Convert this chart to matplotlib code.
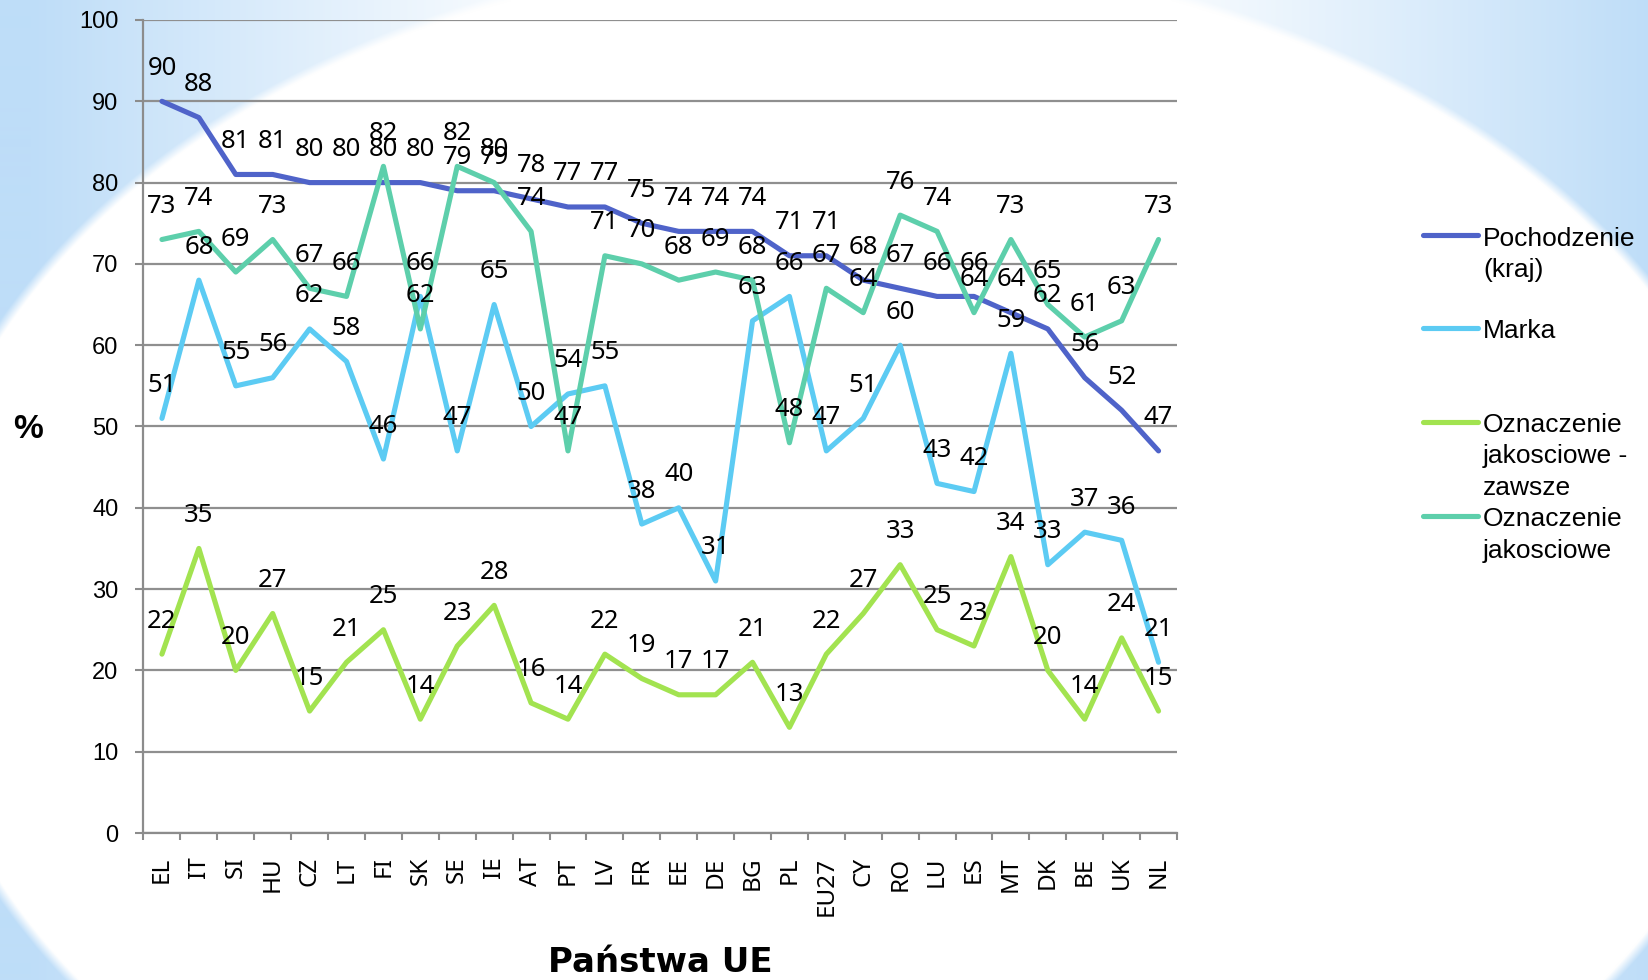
import numpy as np
import matplotlib
matplotlib.use("Agg")
import matplotlib.pyplot as plt
from matplotlib.lines import Line2D
from matplotlib.ticker import FixedLocator

# ---------------- data ----------------
countries = ["EL", "IT", "SI", "HU", "CZ", "LT", "FI", "SK", "SE", "IE", "AT", "PT", "LV", "FR",
             "EE", "DE", "BG", "PL", "EU27", "CY", "RO", "LU", "ES", "MT", "DK", "BE", "UK", "NL"]
pochodzenie = [90, 88, 81, 81, 80, 80, 80, 80, 79, 79, 78, 77, 77, 75,
               74, 74, 74, 71, 71, 68, 67, 66, 66, 64, 62, 56, 52, 47]
marka = [51, 68, 55, 56, 62, 58, 46, 66, 47, 65, 50, 54, 55, 38,
         40, 31, 63, 66, 47, 51, 60, 43, 42, 59, 33, 37, 36, 21]
ozn_zawsze = [22, 35, 20, 27, 15, 21, 25, 14, 23, 28, 16, 14, 22, 19,
              17, 17, 21, 13, 22, 27, 33, 25, 23, 34, 20, 14, 24, 15]
ozn_jakosciowe = [73, 74, 69, 73, 67, 66, 82, 62, 82, 80, 74, 47, 71, 70,
                  68, 69, 68, 48, 67, 64, 76, 74, 64, 73, 65, 61, 63, 73]

series_names = ["Pochodzenie\n(kraj)", "Marka", "Oznaczenie\njakosciowe -\nzawsze", "Oznaczenie\njakosciowe"]
series_values = [pochodzenie, marka, ozn_zawsze, ozn_jakosciowe]
series_colors = ["#4f63c9", "#5ccbf3", "#a2e350", "#5dcfab"]

W, H = 1649, 980
fig = plt.figure(figsize=(W / 100, H / 100), dpi=100)

# ---------------- background (slide decoration) ----------------
yy, xx = np.mgrid[0:H, 0:W].astype(float)
cx, cy, a, b = 841.0, 610.0, 925.0, 652.0
r = np.sqrt(((xx - cx) / a) ** 2 + ((yy - cy) / b) ** 2)
outside = np.clip((r - 1.0) * 80.0, 0, 1)
strength = np.clip((np.abs(xx - cx) - 250.0) / 560.0, 0, 1) ** 1.1
t = outside * strength
blue = np.array([190, 221, 248]) / 255.0
img = np.ones((H, W, 3)) * (1 - t[..., None]) + blue[None, None, :] * t[..., None]
bg = fig.add_axes([0, 0, 1, 1], zorder=0)
bg.imshow(img, extent=[0, 1, 0, 1], aspect="auto", origin="upper", interpolation="bilinear")
bg.axis("off")

# ---------------- main axes ----------------
left, right = 143.5 / W, 1177.0 / W
bottom, top = 1 - 833.0 / H, 1 - 20.0 / H
ax = fig.add_axes([left, bottom, right - left, top - bottom], zorder=1)
ax.set_facecolor("none")

x = np.arange(len(countries))
for vals, col in zip(series_values, series_colors):
    ax.plot(x, vals, color=col, lw=3.7, solid_joinstyle="round", solid_capstyle="round",
            zorder=3, clip_on=False)
for vals in series_values:
    for i, v in enumerate(vals):
        ax.annotate(str(v), (i, v), xytext=(0, 33), textcoords="offset pixels",
                    ha="center", va="center", fontsize=18.5, family="Noto Sans",
                    color="black", zorder=5, annotation_clip=False)

ax.set_xlim(-0.5, len(countries) - 0.5)
ax.set_ylim(0, 100)
ax.set_yticks(np.arange(0, 101, 10))
ax.set_xticks(x)
ax.set_xticklabels(countries, rotation=90, fontsize=17.5, family="Noto Sans", va="top")
ax.xaxis.set_minor_locator(FixedLocator(np.arange(-0.5, len(countries), 1.0)))
ax.tick_params(axis="x", which="major", length=0, pad=17)
ax.tick_params(axis="x", which="minor", length=5, width=1.5, color="#8c8c8c", direction="out")
ax.tick_params(axis="y", length=6, width=1.5, color="#8c8c8c", pad=12, labelsize=17)
for lab in ax.get_yticklabels():
    lab.set_family("Liberation Sans")

ax.yaxis.grid(True, color="#8f8f8f", lw=1.6, zorder=1)
ax.set_axisbelow(True)
for s in ["top", "right"]:
    ax.spines[s].set_visible(False)
for s in ["left", "bottom"]:
    ax.spines[s].set_color("#8c8c8c")
    ax.spines[s].set_linewidth(1.6)

# axis titles
fig.text(28 / W, 1 - 430 / H, "%", fontsize=24, fontweight="bold", family="Liberation Sans",
         ha="center", va="center")
fig.text(660 / W, 1 - 962 / H, "Państwa UE", fontsize=24.5, fontweight="bold",
         family="DejaVu Sans", ha="center", va="center")

# ---------------- legend ----------------
legend_y = [235, 328, 422, 516]
for name, col, ly in zip(series_names, series_colors, legend_y):
    fig.add_artist(Line2D([1423 / W, 1478 / W], [1 - ly / H, 1 - ly / H], color=col, lw=3.7,
                          solid_capstyle="round", transform=fig.transFigure))
    for k, line in enumerate(name.split("\n")):
        fig.text(1483 / W, 1 - (ly + 1 + 31 * k) / H, line, fontsize=19, family="Liberation Sans",
                 ha="left", va="center_baseline")

fig.savefig("out.png", dpi=100)
